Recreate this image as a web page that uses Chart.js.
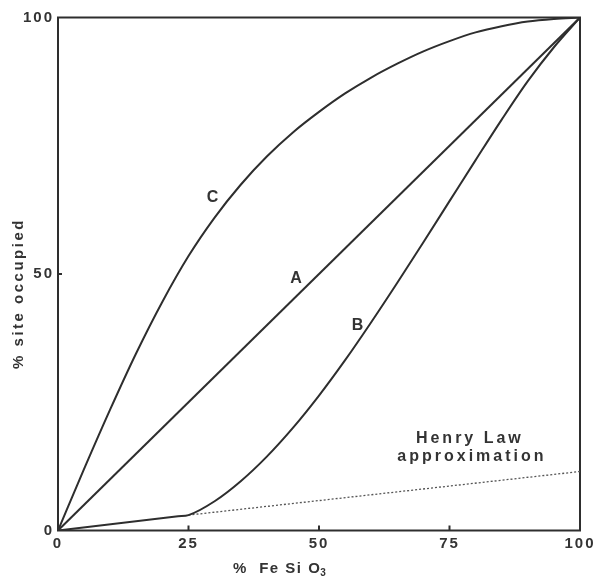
<!DOCTYPE html>
<html>
<head>
<meta charset="utf-8">
<script src="https://cdn.jsdelivr.net/npm/chart.js@4.4.1/dist/chart.umd.min.js"></script>
<style>
  html, body { margin: 0; padding: 0; background: #fff; }
  #wrap { width: 600px; height: 579px; position: relative; }
</style>
</head>
<body>
<div id="wrap"><canvas id="chart"></canvas></div>
<script>
// ---------- DATA ----------
const xTicks = [0, 25, 50, 75, 100];
const yTicks = [0, 50, 100];

const lineA_x = [0, 100];
const lineA_y = [0, 100];

const curveB_x = [0, 23, 25, 30, 35, 40, 45, 50, 55, 60, 65, 70, 75, 80, 85, 90, 95, 100];
const curveB_y = [0, 2.76, 3.0, 5.7, 9.6, 14.4, 20.0, 26.3, 33.2, 40.6, 48.3, 56.2, 64.2, 72.2, 80.1, 87.6, 94.2, 100];

const curveC_x = [0, 5, 10, 15, 20, 25, 30, 35, 40, 45, 50, 55, 60, 65, 70, 75, 80, 85, 90, 95, 100];
const curveC_y = [0, 12.0, 23.6, 34.6, 44.6, 53.5, 61.0, 67.4, 72.9, 77.6, 81.6, 85.2, 88.3, 91.0, 93.4, 95.4, 97.1, 98.3, 99.2, 99.7, 100];

const henry_x = [25, 100];
const henry_y = [3, 11.5];

// ---------- STYLE ----------
const INK = "#2e2e2e";
const TEXT = "#333";
const FONT = "'Liberation Sans', Arial, sans-serif";

const pts = (xs, ys) => xs.map((v, i) => ({ x: v, y: ys[i] }));

// curve letters + Henry Law note (in data units, baseline)
const notes = [
  { text: "C", x: 29.6, y: 64.1 },
  { text: "A", x: 45.6, y: 48.3 },
  { text: "B", x: 57.4, y: 39.1 },
  { text: "Henry Law", x: 78.9, y: 17.0, spacing: "3px" },
  { text: "approximation", x: 79.3, y: 13.5, spacing: "3px" }
];

// ------------------------------------------------------------
// frame, inward ticks, labels, axis titles
// ------------------------------------------------------------
const decor = {
  id: "decor",
  beforeDraw(chart) {
    chart.ctx.letterSpacing = "2px";
  },
  beforeDatasetsDraw(chart) {
    const { ctx, chartArea: a, scales: { x, y } } = chart;
    ctx.save();
    ctx.strokeStyle = INK;
    ctx.lineWidth = 2;
    ctx.strokeRect(a.left, a.top, a.right - a.left, a.bottom - a.top);

    ctx.beginPath();
    xTicks.slice(1, -1).forEach(v => {
      const px = x.getPixelForValue(v);
      ctx.moveTo(px, a.bottom);
      ctx.lineTo(px, a.bottom - 5);
    });
    yTicks.slice(1, -1).forEach(v => {
      const py = y.getPixelForValue(v);
      ctx.moveTo(a.left, py);
      ctx.lineTo(a.left + 4, py);
    });
    ctx.stroke();
    ctx.restore();
  },
  afterDraw(chart) {
    const { ctx, scales: { x, y } } = chart;
    ctx.save();
    ctx.fillStyle = TEXT;
    ctx.textBaseline = "alphabetic";
    ctx.textAlign = "center";

    notes.forEach(n => {
      ctx.font = "bold 16px " + FONT;
      ctx.letterSpacing = n.spacing || "0px";
      ctx.fillText(n.text, x.getPixelForValue(n.x), y.getPixelForValue(n.y));
    });

    // x title: % Fe Si O3 (subscript 3)
    ctx.textAlign = "left";
    ctx.letterSpacing = "1.5px";
    ctx.font = "bold 15px " + FONT;
    const main = "%  Fe Si O";
    const x0 = 233;
    ctx.fillText(main, x0, 573);
    const w = ctx.measureText(main).width;
    ctx.font = "bold 10px " + FONT;
    ctx.fillText("3", x0 + w - 1, 576);

    // y title
    ctx.translate(18.5, 293.5);
    ctx.rotate(-Math.PI / 2);
    ctx.textAlign = "center";
    ctx.textBaseline = "middle";
    ctx.font = "bold 15px " + FONT;
    ctx.letterSpacing = "2.5px";
    ctx.fillText("% site occupied", 0, 0);
    ctx.restore();

    ctx.letterSpacing = "0px";
  }
};

const lineStyle = {
  borderColor: INK,
  borderWidth: 2,
  pointRadius: 0,
  fill: false
};

new Chart(document.getElementById("chart"), {
  type: "line",
  data: {
    datasets: [
      { ...lineStyle, label: "A", data: pts(lineA_x, lineA_y), tension: 0 },
      { ...lineStyle, label: "B", data: pts(curveB_x, curveB_y), cubicInterpolationMode: "monotone" },
      { ...lineStyle, label: "C", data: pts(curveC_x, curveC_y), cubicInterpolationMode: "monotone" },
      {
        label: "Henry Law approximation",
        data: pts(henry_x, henry_y),
        borderColor: "#555",
        borderWidth: 1.3,
        borderDash: [2, 2],
        pointRadius: 0,
        fill: false
      }
    ]
  },
  options: {
    responsive: true,
    maintainAspectRatio: false,
    animation: false,
    layout: { padding: { top: 17.5, right: 20, left: 0, bottom: 0 } },
    plugins: {
      legend: { display: false },
      tooltip: { enabled: false }
    },
    scales: {
      x: {
        type: "linear",
        min: 0,
        max: 100,
        afterBuildTicks: s => { s.ticks = xTicks.map(v => ({ value: v })); },
        afterFit: s => { s.height = 48.5; },
        grid: { display: false, drawTicks: false },
        border: { display: false },
        ticks: {
          padding: 4,
          color: TEXT,
          font: { family: FONT, size: 15, weight: "bold" },
          maxRotation: 0
        }
      },
      y: {
        type: "linear",
        min: 0,
        max: 100,
        afterBuildTicks: s => { s.ticks = yTicks.map(v => ({ value: v })); },
        afterFit: s => { s.width = 58; },
        grid: { display: false, drawTicks: false },
        border: { display: false },
        ticks: {
          padding: 4,
          color: TEXT,
          font: { family: FONT, size: 15, weight: "bold" }
        }
      }
    }
  },
  plugins: [decor]
});
</script>
</body>
</html>
